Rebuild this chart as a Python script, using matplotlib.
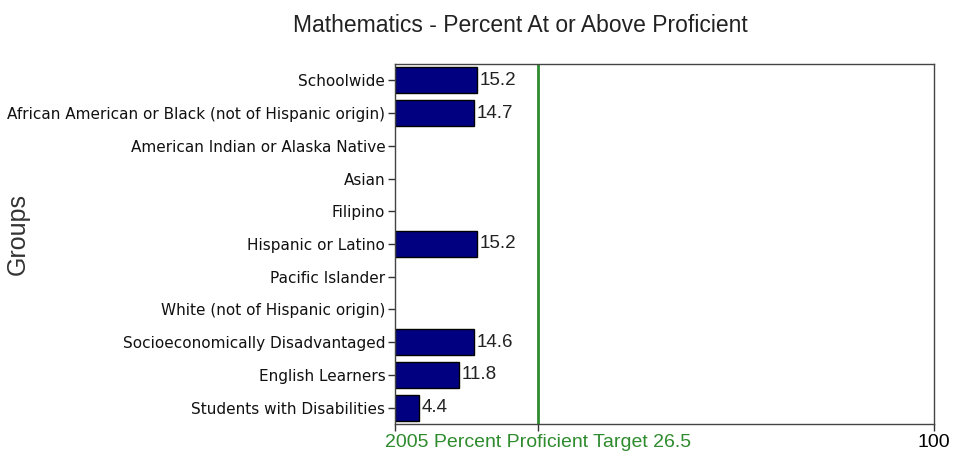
import matplotlib
matplotlib.use("Agg")
import matplotlib.pyplot as plt

groups = ["Schoolwide", "African American or Black (not of Hispanic origin)",
          "American Indian or Alaska Native", "Asian", "Filipino", "Hispanic or Latino",
          "Pacific Islander", "White (not of Hispanic origin)",
          "Socioeconomically Disadvantaged", "English Learners", "Students with Disabilities"]
values = [15.2, 14.7, None, None, None, 15.2, None, None, 14.6, 11.8, 4.4]
target = 26.5
target_label = "2005 Percent Proficient Target 26.5"

plt.rcParams['font.family'] = ['Liberation Sans', 'DejaVu Sans']

fig = plt.figure(figsize=(9.56, 4.55), dpi=100)
ax = fig.add_axes([395 / 956, 1 - 424 / 455, 539 / 956, 360 / 455])

ypos = list(range(len(groups)))
for y, v in zip(ypos, values):
    if v is None:
        continue
    ax.barh(y, v, height=0.8, color='#000080', edgecolor='black', linewidth=1)
    ax.text(v + 0.5, y, f"{v}", va='center', ha='left', fontsize=13.5, color='#222222')

ax.axvline(target, color='#2e8b2e', linewidth=2)

ax.set_xlim(0, 100)
ax.set_ylim(len(groups) - 0.5, -0.5)
ax.set_yticks(ypos)
ax.set_yticklabels(groups, fontsize=11, family='DejaVu Sans', color='#111111')
ax.set_xticks([0, target, 100])
ax.set_xticklabels(["", target_label, "100"], fontsize=14)
ax.get_xticklabels()[1].set_color('#2e8b2e')
ax.tick_params(axis='both', length=5, width=1, color='#333333')
ax.tick_params(axis='y', pad=2)
ax.tick_params(axis='x', pad=2)
for s in ax.spines.values():
    s.set_color('#444444')
    s.set_linewidth(1)

fig.text(18 / 956, 1 - 234 / 455, "Groups", rotation=90, ha='center', va='center',
         fontsize=18, color='#333333')
fig.text(520 / 956, 1 - 25 / 455, "Mathematics - Percent At or Above Proficient",
         ha='center', va='center', fontsize=16.5, color='#222222')

fig.savefig("out.png", dpi=100)
